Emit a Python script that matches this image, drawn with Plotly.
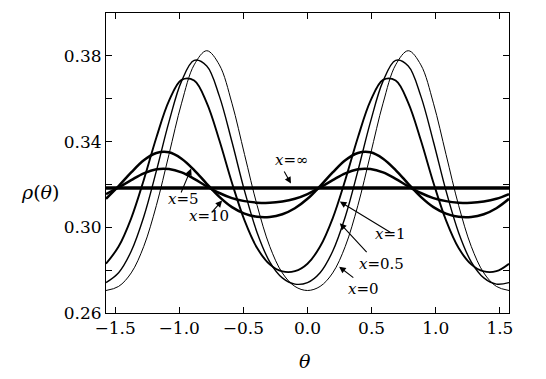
import plotly.graph_objects as go

theta = [-1.5708, -1.4726, -1.3744, -1.2763, -1.1781, -1.0799, -0.9817, -0.8836,
         -0.7854, -0.6872, -0.5890, -0.4909, -0.3927, -0.2945, -0.1963, -0.0982,
         0.0, 0.0982, 0.1963, 0.2945, 0.3927, 0.4909, 0.5890, 0.6872,
         0.7854, 0.8836, 0.9817, 1.0799, 1.1781, 1.2763, 1.3744, 1.4726, 1.5708]

rho_x0 = [0.2705, 0.2724, 0.2787, 0.2911, 0.3102, 0.3340, 0.3579, 0.3758,
          0.3824, 0.3758, 0.3579, 0.3340, 0.3102, 0.2911, 0.2787, 0.2724,
          0.2705, 0.2724, 0.2787, 0.2911, 0.3102, 0.3340, 0.3579, 0.3758,
          0.3824, 0.3758, 0.3579, 0.3340, 0.3102, 0.2911, 0.2787, 0.2724, 0.2705]

rho_x05 = [0.2742, 0.2788, 0.2888, 0.3049, 0.3263, 0.3492, 0.3682, 0.3779,
           0.3753, 0.3612, 0.3399, 0.3170, 0.2975, 0.2839, 0.2764, 0.2735,
           0.2742, 0.2788, 0.2888, 0.3049, 0.3263, 0.3492, 0.3682, 0.3779,
           0.3753, 0.3612, 0.3399, 0.3170, 0.2975, 0.2839, 0.2764, 0.2735, 0.2742]

rho_x1 = [0.2830, 0.2910, 0.3042, 0.3221, 0.3419, 0.3590, 0.3688, 0.3685,
          0.3581, 0.3406, 0.3208, 0.3032, 0.2903, 0.2827, 0.2794, 0.2795,
          0.2830, 0.2910, 0.3042, 0.3221, 0.3419, 0.3590, 0.3688, 0.3685,
          0.3581, 0.3406, 0.3208, 0.3032, 0.2903, 0.2827, 0.2794, 0.2795, 0.2830]

rho_x5 = [0.3133, 0.3192, 0.3256, 0.3313, 0.3347, 0.3350, 0.3320, 0.3267,
          0.3203, 0.3142, 0.3094, 0.3064, 0.3049, 0.3048, 0.3061, 0.3089,
          0.3133, 0.3192, 0.3256, 0.3313, 0.3347, 0.3350, 0.3320, 0.3267,
          0.3203, 0.3142, 0.3094, 0.3064, 0.3049, 0.3048, 0.3061, 0.3089, 0.3133]

rho_x10 = [0.3155, 0.3186, 0.3220, 0.3252, 0.3271, 0.3272, 0.3256, 0.3226,
           0.3191, 0.3160, 0.3136, 0.3122, 0.3115, 0.3114, 0.3120, 0.3133,
           0.3155, 0.3186, 0.3220, 0.3252, 0.3271, 0.3272, 0.3256, 0.3226,
           0.3191, 0.3160, 0.3136, 0.3122, 0.3115, 0.3114, 0.3120, 0.3133, 0.3155]

rho_inf = [0.3183] * len(theta)

x_ticks = [-1.5, -1.0, -0.5, 0.0, 0.5, 1.0, 1.5]
x_ticktext = ["\u22121.5", "\u22121.0", "\u22120.5", "0.0", "0.5", "1.0", "1.5"]
y_ticks = [0.26, 0.28, 0.30, 0.32, 0.34, 0.36, 0.38]
y_ticktext = ["0.26", "", "0.30", "", "0.34", "", "0.38"]

series = [
    (rho_x0, 1.0),
    (rho_x05, 1.4),
    (rho_x1, 1.9),
    (rho_x5, 2.5),
    (rho_x10, 2.5),
    (rho_inf, 3.6),
]

FONT = "DejaVu Serif"

fig = go.Figure()
for vals, w in series:
    fig.add_trace(go.Scatter(x=theta, y=vals, mode="lines",
                             line=dict(color="black", width=w, shape="spline"),
                             showlegend=False, hoverinfo="skip"))

# labels: (text, text_x, text_y, head_x, head_y, tail_x, tail_y)
labels = [
    ("<i>x</i>=\u221e", -0.121, 0.3313, -0.129, 0.3204, -0.188, 0.3267),
    ("<i>x</i>=5", -0.964, 0.3130, -0.907, 0.3274, -0.990, 0.3155),
    ("<i>x</i>=10", -0.770, 0.3052, -0.666, 0.3125, -0.757, 0.3063),
    ("<i>x</i>=1", 0.647, 0.2968, 0.252, 0.3120, 0.666, 0.2969),
    ("<i>x</i>=0.5", 0.575, 0.2827, 0.252, 0.3019, 0.472, 0.2877),
    ("<i>x</i>=0", 0.4355, 0.2714, 0.2465, 0.2816, 0.369, 0.2760),
]
annotations = []
for txt, tx, ty, hx, hy, ax, ay in labels:
    annotations.append(dict(x=tx, y=ty, xref="x", yref="y", text=txt, showarrow=False,
                            xanchor="center", yanchor="middle",
                            font=dict(family=FONT, size=15, color="black")))
    annotations.append(dict(x=hx, y=hy, xref="x", yref="y", ax=ax, ay=ay,
                            axref="x", ayref="y", text="", showarrow=True,
                            arrowhead=2, arrowsize=1.2, arrowwidth=1.1, arrowcolor="black"))

annotations.append(dict(x=-0.164, y=0.405, xref="paper", yref="paper",
                        xanchor="center", yanchor="middle",
                        text="<i>\u03c1</i>(<i>\u03b8</i>)", showarrow=False,
                        font=dict(family=FONT, size=19, color="black")))
annotations.append(dict(x=0.493, y=-0.161, xref="paper", yref="paper",
                        xanchor="center", yanchor="middle",
                        text="<i>\u03b8</i>", showarrow=False,
                        font=dict(family=FONT, size=19, color="black")))

fig.update_layout(
    width=546, height=379,
    margin=dict(l=106, r=37, t=13, b=66),
    paper_bgcolor="white", plot_bgcolor="white",
    annotations=annotations,
    font=dict(family=FONT, size=17, color="black"),
)
fig.update_xaxes(range=[-1.5708, 1.5708], tickvals=x_ticks, ticktext=x_ticktext,
                 ticks="inside", ticklen=6, tickwidth=1, tickcolor="black",
                 showline=True, linecolor="black", linewidth=1, mirror="ticks",
                 showgrid=False, zeroline=False,
                 tickfont=dict(family=FONT, size=17, color="black"))
fig.update_yaxes(range=[0.26, 0.40], tickvals=y_ticks, ticktext=y_ticktext,
                 ticks="inside", ticklen=6, tickwidth=1, tickcolor="black",
                 showline=True, linecolor="black", linewidth=1, mirror="ticks",
                 showgrid=False, zeroline=False,
                 tickfont=dict(family=FONT, size=17, color="black"))

fig.write_html("out.html", config={"displayModeBar": False},
               post_script="document.body.style.margin='0';")
